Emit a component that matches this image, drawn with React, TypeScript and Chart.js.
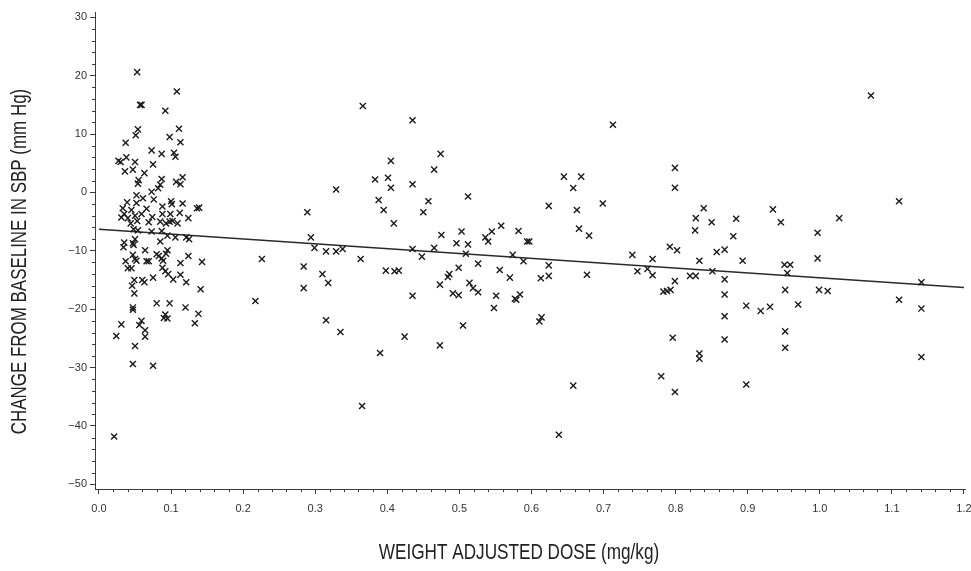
import React, { useEffect, useRef } from "react";
import { Chart, registerables } from "chart.js";

Chart.register(...registerables);

// ---- Data ----
const doseValues: number[] = [
  // dense low-dose cluster
  0.053, 0.108, 0.057, 0.059, 0.092, 0.111, 0.054, 0.051, 0.098, 0.113,
  0.037, 0.073, 0.087, 0.104, 0.106, 0.027, 0.030, 0.038, 0.050, 0.075,
  0.036, 0.047, 0.063, 0.116, 0.087, 0.055, 0.054, 0.085, 0.107, 0.113,
  0.082, 0.073, 0.052, 0.061, 0.076, 0.100, 0.101, 0.116, 0.039, 0.052,
  0.136, 0.139, 0.033, 0.045, 0.066, 0.088, 0.112, 0.035, 0.031, 0.040,
  0.050, 0.059, 0.074, 0.088, 0.099, 0.124, 0.044, 0.053, 0.069, 0.085,
  0.093, 0.098, 0.102, 0.109, 0.048, 0.054, 0.073, 0.087, 0.095, 0.106,
  0.121, 0.125, 0.050, 0.035, 0.047, 0.048, 0.085, 0.034, 0.064, 0.095,
  0.047, 0.050, 0.080, 0.083, 0.087, 0.093, 0.124, 0.037, 0.113, 0.143,
  0.040, 0.045, 0.052, 0.066, 0.069, 0.088, 0.092, 0.096, 0.113, 0.103,
  0.121, 0.049, 0.060, 0.063, 0.075, 0.046, 0.049, 0.141, 0.080, 0.098,
  0.120, 0.138, 0.047, 0.047, 0.092, 0.090, 0.095, 0.133, 0.059, 0.056,
  0.031, 0.064, 0.064, 0.024, 0.050, 0.047, 0.075, 0.021, 0.089,
  // 0.2 - 0.3
  0.217, 0.226,
  // 0.28 - 0.75
  0.366, 0.435, 0.713, 0.474, 0.405, 0.465, 0.383, 0.401, 0.435, 0.405,
  0.329, 0.512, 0.388, 0.457, 0.624, 0.289, 0.395, 0.450, 0.645, 0.669,
  0.658, 0.699, 0.663, 0.409, 0.558, 0.545, 0.582, 0.503, 0.475, 0.536,
  0.540, 0.496, 0.512, 0.594, 0.597, 0.666, 0.680, 0.294, 0.299, 0.315,
  0.329, 0.338, 0.435, 0.465, 0.448, 0.509, 0.574, 0.589, 0.740, 0.363,
  0.284, 0.398, 0.410, 0.416, 0.526, 0.499, 0.556, 0.624, 0.624, 0.613,
  0.677, 0.747, 0.570, 0.310, 0.318, 0.486, 0.484, 0.473, 0.514, 0.519,
  0.526, 0.491, 0.499, 0.551, 0.584, 0.579, 0.577, 0.435, 0.284, 0.548,
  0.315, 0.614, 0.611, 0.335, 0.505, 0.424, 0.390, 0.473, 0.658, 0.365,
  0.638,
  // 0.75 - 1.15
  1.071, 0.799, 0.799, 1.110, 0.839, 0.828, 0.850, 0.884, 0.935, 0.946,
  1.027, 0.827, 0.880, 0.997, 0.792, 0.802, 0.857, 0.868, 0.768, 0.833,
  0.893, 0.997, 0.951, 0.959, 0.955, 1.141, 0.761, 0.768, 0.851, 0.820,
  0.828, 0.799, 0.868, 0.783, 0.788, 0.793, 0.868, 0.952, 0.999, 1.011,
  1.110, 0.898, 0.918, 0.931, 0.970, 1.141, 0.868, 0.952, 0.868, 0.952,
  0.796, 0.833, 0.833, 1.141, 0.780, 0.799, 0.898,
];

const sbpChange: number[] = [
  20.6, 17.3, 15.0, 15.0, 14.0, 10.9, 10.8, 9.8, 9.5, 8.6,
  8.5, 7.2, 6.6, 6.8, 6.1, 5.4, 5.2, 6.0, 5.2, 4.8,
  3.6, 3.9, 3.3, 2.6, 2.3, 2.1, 1.5, 1.3, 1.8, 1.4,
  0.7, 0.1, -0.5, -1.0, -1.2, -1.5, -2.0, -1.9, -1.7, -1.8,
  -2.7, -2.6, -2.7, -3.0, -2.8, -2.4, -3.5, -3.7, -4.3, -4.4,
  -4.0, -3.7, -4.2, -3.7, -3.7, -4.4, -5.3, -4.9, -5.1, -5.0,
  -5.3, -5.0, -4.9, -5.3, -6.3, -6.5, -6.7, -6.6, -7.4, -7.7,
  -7.7, -8.0, -8.0, -8.6, -8.7, -9.0, -8.4, -9.4, -9.9, -9.9,
  -10.7, -11.4, -10.6, -10.9, -11.3, -10.5, -10.9, -11.8, -12.1, -11.9,
  -13.0, -13.0, -11.7, -11.8, -11.8, -12.9, -13.5, -14.0, -14.1, -14.9,
  -15.4, -15.0, -15.0, -15.4, -14.6, -16.0, -17.3, -16.6, -19.0, -19.0,
  -19.7, -20.8, -19.7, -20.1, -20.9, -21.5, -21.6, -22.4, -22.0, -22.7,
  -22.6, -23.6, -24.7, -24.6, -26.3, -29.4, -29.7, -41.8, -11.7,
  -18.6, -11.4,
  14.8, 12.35, 11.6, 6.6, 5.4, 3.9, 2.2, 2.5, 1.4, 0.8,
  0.5, -0.7, -1.3, -1.5, -2.3, -3.4, -3.0, -3.4, 2.7, 2.7,
  0.75, -1.9, -3.0, -5.3, -5.7, -6.7, -6.6, -6.7, -7.3, -7.7,
  -8.4, -8.7, -8.9, -8.4, -8.4, -6.2, -7.4, -7.7, -9.5, -10.1,
  -10.1, -9.7, -9.7, -9.5, -11.0, -10.5, -10.7, -11.8, -10.7, -11.4,
  -12.7, -13.4, -13.5, -13.4, -12.2, -12.9, -13.3, -12.5, -14.3, -14.7,
  -14.1, -13.5, -14.6, -14.0, -15.5, -14.0, -14.5, -15.8, -15.5, -16.4,
  -17.1, -17.3, -17.6, -17.7, -17.5, -18.4, -18.2, -17.7, -16.4, -19.8,
  -21.9, -21.4, -22.1, -23.9, -22.8, -24.7, -27.5, -26.2, -33.1, -36.6,
  -41.5,
  16.6, 4.2, 0.8, -1.5, -2.7, -4.4, -5.1, -4.5, -2.9, -5.1,
  -4.4, -6.5, -7.5, -6.9, -9.3, -9.9, -10.2, -9.8, -11.4, -11.7,
  -11.7, -11.3, -12.4, -12.4, -13.8, -15.4, -13.1, -14.2, -13.5, -14.3,
  -14.3, -15.2, -14.9, -17.0, -16.9, -16.7, -17.5, -16.7, -16.7, -16.9,
  -18.4, -19.4, -20.3, -19.6, -19.2, -19.9, -21.2, -23.8, -25.2, -26.6,
  -24.9, -27.6, -28.5, -28.2, -31.5, -34.2, -32.9,
];

// fitted regression line end points
const fitDose: number[] = [0.0, 1.2];
const fitChange: number[] = [-6.3, -16.3];

// axes
const xMajorTicks: number[] = [0.0, 0.1, 0.2, 0.3, 0.4, 0.5, 0.6, 0.7, 0.8, 0.9, 1.0, 1.1, 1.2];
const yMajorTicks: number[] = [-50, -40, -30, -20, -10, 0, 10, 20, 30];
const xMinorStep = 0.02;
const yMinorStep = 2;
const xTitle = "WEIGHT ADJUSTED DOSE (mg/kg)";
const yTitle = "CHANGE FROM BASELINE IN SBP (mm Hg)";

const AXIS_COLOR = "#3a3a3a";
const TEXT_COLOR = "#222";
const FONT = '"Liberation Sans", Arial, Helvetica, sans-serif';

const extrasPlugin = {
  id: "extras",
  afterDraw(chart: any) {
    const ctx = chart.ctx;
    const xs = chart.scales.x;
    const ys = chart.scales.y;
    const area = chart.chartArea;
    ctx.save();
    // minor ticks
    ctx.strokeStyle = AXIS_COLOR;
    ctx.lineWidth = 1;
    ctx.beginPath();
    for (let i = 0; i <= 60; i++) {
      const v = +(i * xMinorStep).toFixed(4);
      if (Math.abs(v * 10 - Math.round(v * 10)) < 1e-6) continue;
      const px = Math.round(xs.getPixelForValue(v)) + 0.5;
      ctx.moveTo(px, area.bottom);
      ctx.lineTo(px, area.bottom + 3);
    }
    for (let v = -50; v <= 30; v += yMinorStep) {
      if (v % 10 === 0) continue;
      const py = Math.round(ys.getPixelForValue(v)) + 0.5;
      ctx.moveTo(area.left, py);
      ctx.lineTo(area.left - 3, py);
    }
    ctx.stroke();

    // axis titles (condensed sans)
    ctx.fillStyle = TEXT_COLOR;
    ctx.font = `22px ${FONT}`;
    ctx.textAlign = "center";
    ctx.textBaseline = "middle";
    ctx.save();
    ctx.translate(519, 553);
    ctx.scale(0.78, 1);
    ctx.fillText(xTitle, 0, 0);
    ctx.restore();
    ctx.save();
    ctx.translate(20, 261.5);
    ctx.rotate(-Math.PI / 2);
    ctx.scale(0.77, 1);
    ctx.fillText(yTitle, 0, 0);
    ctx.restore();
    ctx.restore();
  },
};

export default function App() {
  const canvasRef = useRef<HTMLCanvasElement | null>(null);

  useEffect(() => {
    if (!canvasRef.current) return;
    const points = doseValues.map((d, i) => ({ x: d, y: sbpChange[i] }));
    const fit = fitDose.map((d, i) => ({ x: d, y: fitChange[i] }));

    const chart = new Chart(canvasRef.current, {
      type: "scatter",
      data: {
        datasets: [
          {
            label: "Patients",
            data: points,
            pointStyle: "crossRot",
            pointRadius: 4.3,
            pointHoverRadius: 4.3,
            borderColor: "#1c1c1c",
            backgroundColor: "#1c1c1c",
            borderWidth: 1.4,
            showLine: false,
          },
          {
            label: "Fit",
            data: fit,
            showLine: true,
            pointRadius: 0,
            borderColor: "#2a2a2a",
            borderWidth: 1.6,
            fill: false,
          },
        ],
      },
      options: {
        responsive: false,
        animation: false,
        devicePixelRatio: 1,
        layout: { padding: { top: 12, right: 3, left: 0, bottom: 0 } },
        plugins: {
          legend: { display: false },
          tooltip: { enabled: false },
          title: { display: false },
        },
        scales: {
          x: {
            type: "linear",
            min: -0.00553,
            max: 1.2019,
            afterBuildTicks: (scale: any) => {
              scale.ticks = xMajorTicks.map((v) => ({ value: v }));
            },
            afterFit: (scale: any) => {
              scale.height = 82;
              scale.paddingLeft = 0;
              scale.paddingRight = 0;
            },
            ticks: {
              autoSkip: false,
              maxRotation: 0,
              padding: 8,
              color: "#333",
              font: { family: FONT, size: 11 },
              callback: (v: any) => Number(v).toFixed(1),
            },
            grid: {
              display: true,
              drawOnChartArea: false,
              drawTicks: true,
              tickLength: 5,
              tickColor: AXIS_COLOR,
            },
            border: { display: true, color: AXIS_COLOR, width: 1 },
          },
          y: {
            type: "linear",
            min: -50.805,
            max: 30.905,
            afterBuildTicks: (scale: any) => {
              scale.ticks = yMajorTicks.map((v) => ({ value: v }));
            },
            afterFit: (scale: any) => {
              scale.width = 95;
              scale.paddingTop = 0;
              scale.paddingBottom = 0;
            },
            ticks: {
              autoSkip: false,
              padding: 3,
              color: "#333",
              font: { family: FONT, size: 11 },
              callback: (v: any) => {
                const n = Number(v);
                return n < 0 ? "\u2212" + Math.abs(n) : String(n);
              },
            },
            grid: {
              display: true,
              drawOnChartArea: false,
              drawTicks: true,
              tickLength: 5,
              tickColor: AXIS_COLOR,
            },
            border: { display: true, color: AXIS_COLOR, width: 1 },
          },
        },
      },
      plugins: [extrasPlugin],
    });
    return () => chart.destroy();
  }, []);

  return (
    <div
      style={{
        position: "fixed",
        left: 0,
        top: 0,
        width: 971,
        height: 571,
        background: "#fff",
      }}
    >
      <canvas ref={canvasRef} width={971} height={571} style={{ display: "block" }} />
    </div>
  );
}
